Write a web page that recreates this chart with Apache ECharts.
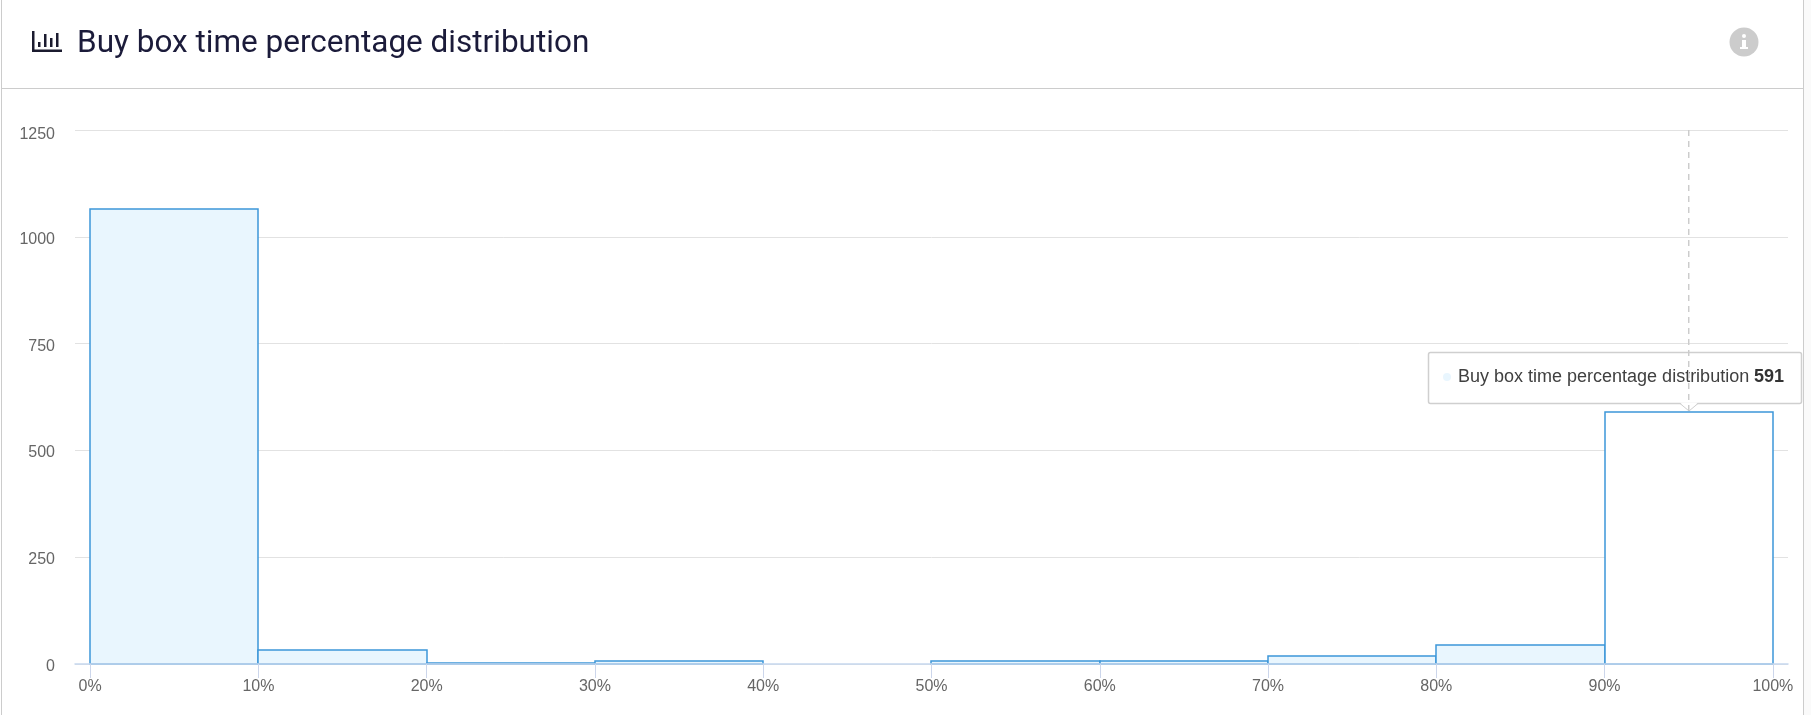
<!DOCTYPE html>
<html>
<head>
<meta charset="utf-8">
<title>Buy box time percentage distribution</title>
<style>
    html, body { margin: 0; padding: 0; background: #ffffff; }
    #chart { width: 1811px; height: 715px; }
</style>
<script src="https://cdn.jsdelivr.net/npm/echarts@6/dist/echarts.min.js"></script>
</head>
<body>
<div id="chart"></div>
<script>
// Chart data
const chartTitle = 'Buy box time percentage distribution';
const binEdges = [0, 10, 20, 30, 40, 50, 60, 70, 80, 90, 100];
const binCounts = [1066, 33, 3, 8, 0, 8, 8, 19, 45, 591];
const yTicks = [0, 250, 500, 750, 1000, 1250];
const hoveredBin = 9;

const chart = echarts.init(document.getElementById('chart'));

const barData = binCounts.map((count, i) => [binEdges[i], binEdges[i + 1], count]);
const hoverCenter = (binEdges[hoveredBin] + binEdges[hoveredBin + 1]) / 2;
const yMax = yTicks[yTicks.length - 1];

// One histogram bar, placed through the axes
function renderBin(params, api) {
    const count = api.value(2);
    if (!count) {
        return null;
    }
    const start = api.coord([api.value(0), count]);
    const end = api.coord([api.value(1), 0]);
    const x = Math.round(start[0]);
    const y = Math.round(start[1]);
    return {
        type: 'rect',
        shape: { x: x, y: y, width: Math.round(end[0]) - x, height: Math.round(end[1]) - y },
        style: {
            fill: params.dataIndex === hoveredBin ? '#ffffff' : '#e9f6fe',
            stroke: '#3d97d9',
            lineWidth: 1.5
        }
    };
}

chart.setOption({
    animation: false,
    backgroundColor: '#ffffff',
    title: {
        text: chartTitle,
        left: 72,
        top: 23,
        textStyle: { fontFamily: 'Roboto', fontSize: 31.5, fontWeight: 400, color: '#1b1b3a' }
    },
    grid: { left: 75, right: 23, top: 130, bottom: 51 },
    xAxis: {
        type: 'value',
        min: -0.9,
        max: 100.9,
        z: 5,
        splitLine: { show: false },
        axisLine: { show: true, lineStyle: { color: '#c6d7ee', width: 1.5 } },
        axisTick: { show: true, length: 14, customValues: binEdges, lineStyle: { color: '#ccd6eb' } },
        axisLabel: {
            customValues: binEdges,
            formatter: v => v + '%',
            margin: 15,
            color: '#666666',
            fontFamily: 'Liberation Sans',
            fontSize: 16
        }
    },
    yAxis: {
        type: 'value',
        min: yTicks[0],
        max: yMax,
        interval: yTicks[1] - yTicks[0],
        axisLine: { show: false },
        axisTick: { show: false },
        splitLine: { lineStyle: { color: '#e2e2e2', width: 1 } },
        axisLabel: {
            margin: 20,
            color: '#666666',
            fontFamily: 'Liberation Sans',
            fontSize: 16,
            padding: [5, 0, 0, 0],
            // the top label sits a bit lower, clear of the chart edge
            formatter: v => (v === yMax ? '{top|' + v + '}' : String(v)),
            rich: {
                top: { padding: [5, 0, 0, 0], color: '#666666', fontFamily: 'Liberation Sans', fontSize: 16 }
            }
        }
    },
    series: [
        {
            // hover crosshair, sits under the bars
            type: 'line',
            z: 1,
            silent: true,
            symbol: 'none',
            data: [[hoverCenter, yTicks[0]], [hoverCenter, yMax]],
            lineStyle: { color: '#cccccc', width: 1.5, type: [6, 5] }
        },
        {
            type: 'custom',
            z: 2,
            silent: true,
            renderItem: renderBin,
            encode: { x: [0, 1], y: 2 },
            data: barData
        }
    ]
});

// Page furniture and the pinned tooltip, anchored on the hovered bar
const tip = chart.convertToPixel({ xAxisIndex: 0, yAxisIndex: 0 }, [hoverCenter, binCounts[hoveredBin]]);
const tipX = Math.round(tip[0]);
const tipY = Math.round(tip[1]);
const boxBottom = tipY - 9;
const boxTop = boxBottom - 51;
const boxLeft = tipX - 261;
const boxRight = tipX + 112;
const iconColor = '#1b1b2f';

chart.setOption({
    graphic: [
        { type: 'rect', z: 0, silent: true, shape: { x: 1804, y: 0, width: 7, height: 715 }, style: { fill: '#fafafa' } },
        { type: 'rect', z: 1, silent: true, shape: { x: 1, y: 0, width: 1, height: 715 }, style: { fill: '#cccccc' } },
        { type: 'rect', z: 1, silent: true, shape: { x: 1803, y: 0, width: 1, height: 715 }, style: { fill: '#cccccc' } },
        { type: 'rect', z: 1, silent: true, shape: { x: 1, y: 88, width: 1802, height: 1 }, style: { fill: '#cccccc' } },

        // chart icon in the header
        { type: 'rect', silent: true, shape: { x: 32, y: 31, width: 2.5, height: 21 }, style: { fill: iconColor } },
        { type: 'rect', silent: true, shape: { x: 32, y: 49.5, width: 30, height: 2.5 }, style: { fill: iconColor } },
        { type: 'rect', silent: true, shape: { x: 38, y: 42, width: 2.5, height: 5 }, style: { fill: iconColor } },
        { type: 'rect', silent: true, shape: { x: 44, y: 34, width: 2.5, height: 13 }, style: { fill: iconColor } },
        { type: 'rect', silent: true, shape: { x: 50, y: 38, width: 2.5, height: 9 }, style: { fill: iconColor } },
        { type: 'rect', silent: true, shape: { x: 56, y: 33, width: 2.5, height: 14 }, style: { fill: iconColor } },

        // info icon
        { type: 'circle', silent: true, shape: { cx: 1744, cy: 42, r: 14.5 }, style: { fill: '#cccccc' } },
        { type: 'circle', silent: true, shape: { cx: 1744, cy: 36, r: 2 }, style: { fill: '#ffffff' } },
        { type: 'rect', silent: true, shape: { x: 1742, y: 40, width: 4, height: 8 }, style: { fill: '#ffffff' } },
        { type: 'rect', silent: true, shape: { x: 1740, y: 47, width: 8, height: 2 }, style: { fill: '#ffffff' } },

        // tooltip
        {
            type: 'group',
            z: 20,
            silent: true,
            children: [
                {
                    type: 'rect',
                    shape: { x: boxLeft + 0.5, y: boxTop + 0.5, width: boxRight - boxLeft, height: boxBottom - boxTop, r: 2 },
                    style: { fill: 'rgba(255,255,255,0.97)', stroke: '#cfcfcf', lineWidth: 1.5 }
                },
                {
                    type: 'polygon',
                    shape: { points: [[tipX - 9, boxBottom - 0.5], [tipX + 9, boxBottom - 0.5], [tipX, tipY - 1]] },
                    style: { fill: '#ffffff' }
                },
                {
                    type: 'polyline',
                    shape: { points: [[tipX - 9, boxBottom + 0.5], [tipX, tipY - 1], [tipX + 9, boxBottom + 0.5]] },
                    style: { fill: null, stroke: '#cfcfcf', lineWidth: 1 }
                },
                { type: 'circle', shape: { cx: boxLeft + 19, cy: boxTop + 25, r: 4 }, style: { fill: '#e9f6fe' } },
                {
                    type: 'text',
                    x: boxLeft + 30,
                    y: boxTop + 25,
                    style: { text: chartTitle, fill: '#404040', font: '18px "Liberation Sans"', verticalAlign: 'middle' }
                },
                {
                    type: 'text',
                    x: boxRight - 17,
                    y: boxTop + 25,
                    style: { text: String(binCounts[hoveredBin]), fill: '#333333', font: 'bold 18px "Liberation Sans"', align: 'right', verticalAlign: 'middle' }
                }
            ]
        }
    ]
});
</script>
</body>
</html>
